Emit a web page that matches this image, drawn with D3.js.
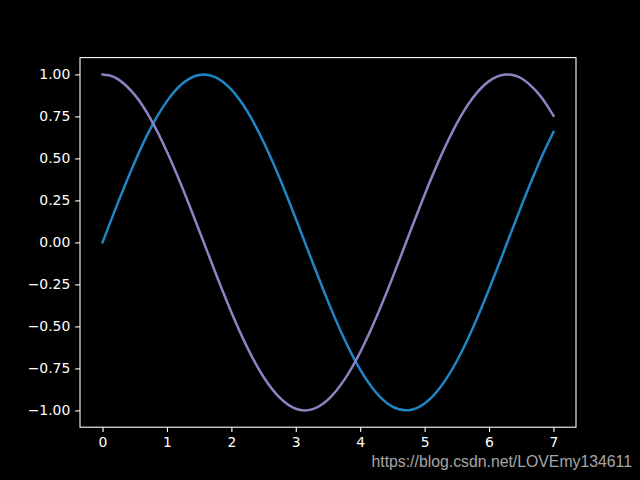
<!DOCTYPE html>
<html><head><meta charset="utf-8">
<script src="https://cdn.jsdelivr.net/npm/d3@7"></script>
<style>
html,body{margin:0;padding:0;background:#000;}
svg{display:block;}
text{font-family:"DejaVu Sans",sans-serif;}
</style></head>
<body>
<script>
const xValues = [0,0.1,0.25,0.5,0.75,1,1.25,1.5,1.75,2,2.25,2.5,2.75,3,3.25,3.5,3.75,4,4.25,4.5,4.75,5,5.25,5.5,5.75,6,6.25,6.5,6.75,6.9,7];
const sinValues = [0,0.100,0.247,0.479,0.682,0.841,0.949,0.997,0.984,0.909,0.778,0.598,0.382,0.141,-0.108,-0.351,-0.572,-0.757,-0.895,-0.978,-0.999,-0.959,-0.859,-0.706,-0.508,-0.279,-0.033,0.215,0.450,0.578,0.657];
const cosValues = [1,0.995,0.969,0.878,0.732,0.540,0.315,0.071,-0.178,-0.416,-0.628,-0.801,-0.924,-0.990,-0.994,-0.936,-0.820,-0.654,-0.446,-0.211,0.038,0.284,0.512,0.709,0.861,0.960,0.999,0.977,0.893,0.816,0.754];
const xTicks = [0,1,2,3,4,5,6,7];
const yTicks = [-1,-0.75,-0.5,-0.25,0,0.25,0.5,0.75,1];
const seriesColors = ["#1f86c6","#8b83c2"];
const watermark = "https://blog.csdn.net/LOVEmy134611";

const W=640,H=480;
const L=80,R=576,T=57.6,B=427.2;
const svg=d3.select("body").append("svg").attr("width",W).attr("height",H);
svg.append("rect").attr("width",W).attr("height",H).attr("fill","#000");

const x=d3.scaleLinear().domain([-0.35,7.35]).range([L,R]);
const y=d3.scaleLinear().domain([-1.1,1.1]).range([B,T]);

const line=(vals)=>d3.line().x((d,i)=>x(xValues[i])).y(d=>y(d)).curve(d3.curveNatural)(vals);

const g=svg.append("g");
[sinValues,cosValues].forEach((vals,k)=>{
  g.append("path").attr("d",line(vals)).attr("fill","none")
   .attr("stroke",seriesColors[k]).attr("stroke-width",2.5).attr("stroke-linecap","square");
});

const xa=svg.append("g").attr("transform",`translate(0,${B})`)
  .call(d3.axisBottom(x).tickValues(xTicks).tickFormat(d3.format("d")).tickSize(4.86).tickPadding(4.86));
const ya=svg.append("g").attr("transform",`translate(${L},0)`)
  .call(d3.axisLeft(y).tickValues(yTicks).tickFormat(d3.format(".2f")).tickSize(4.86).tickPadding(4.86));
[xa,ya].forEach(a=>{
  a.select(".domain").remove();
  a.selectAll("line").attr("stroke","#fff").attr("stroke-width",1.1);
  a.selectAll("text").attr("fill","#fff").style("font-size","13.9px").style("font-family","DejaVu Sans");
});

svg.append("rect").attr("x",L).attr("y",T).attr("width",R-L).attr("height",B-T)
  .attr("fill","none").attr("stroke","#fff").attr("stroke-width",1.1);

svg.append("text").attr("x",632).attr("y",467).attr("text-anchor","end")
  .attr("fill","#a6a6a6").style("font-family","Liberation Sans, Arial, sans-serif").style("font-size","15.8px")
  .text(watermark);
</script>
</body></html>
